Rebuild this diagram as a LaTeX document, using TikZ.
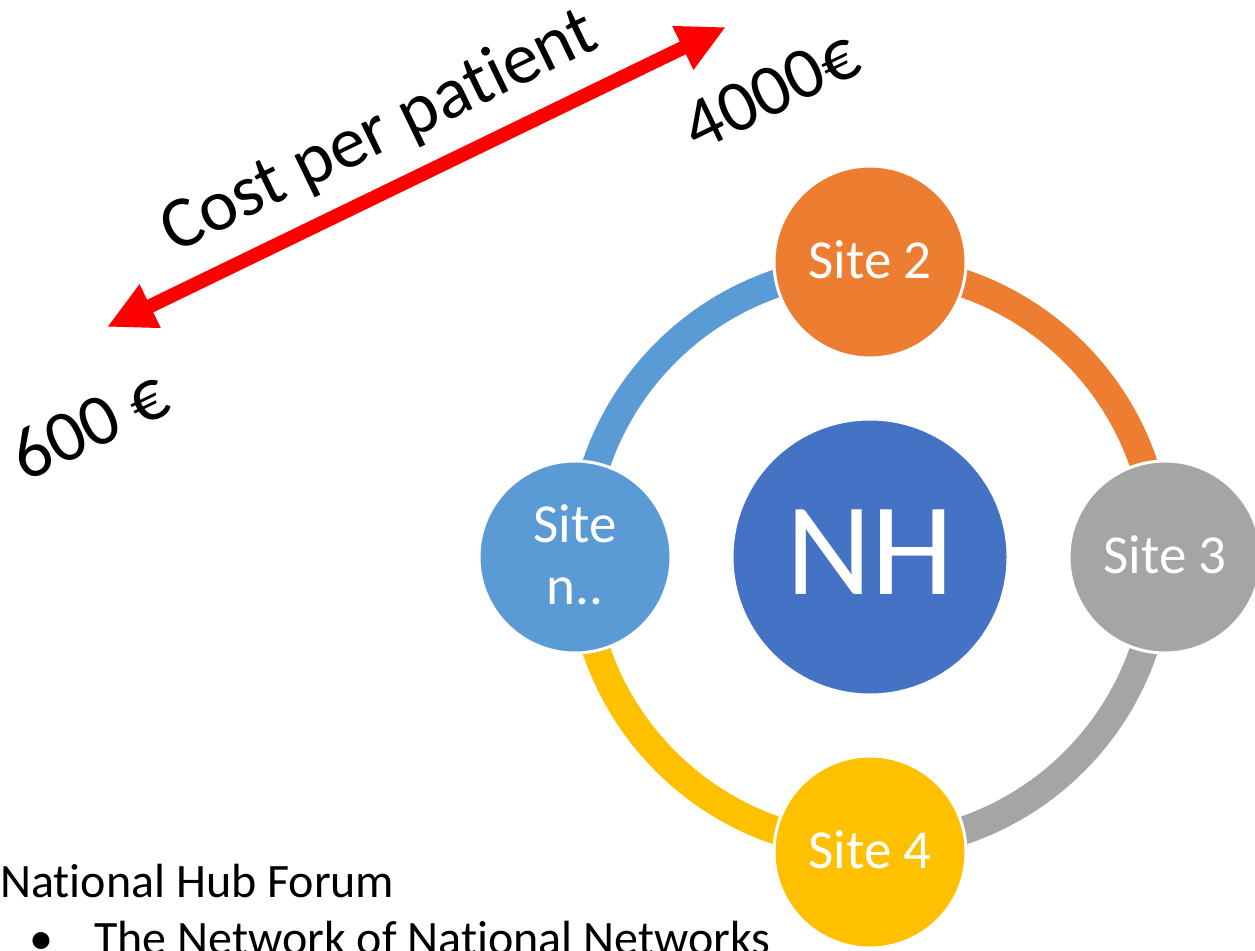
\documentclass[tikz,border=0pt]{standalone}
\usepackage{fontspec}
\setmainfont{Carlito}[Ligatures={NoCommon,NoContextual},RawFeature={-liga;-clig;-dlig}]
\usetikzlibrary{arrows.meta}
\definecolor{cOrange}{HTML}{ED7D31}
\definecolor{cGray}{HTML}{A5A5A5}
\definecolor{cYellow}{HTML}{FFC000}
\definecolor{cBlue}{HTML}{5B9BD5}
\definecolor{cHub}{HTML}{4472C4}
\definecolor{cRed}{HTML}{FF0000}
\tikzset{
  sitecircle/.style={circle, draw=white, line width=3pt, minimum size=192pt, inner sep=0pt,
     text=white, font=\fontsize{55}{62}\selectfont, text height=32pt, text depth=0pt},
  hubcircle/.style={circle, draw=white, line width=3pt, minimum size=276pt, inner sep=0pt,
     fill=cHub, text=white, font=\fontsize{132}{150}\selectfont, text height=74pt, text depth=0pt},
  ringarc/.style={line width=28pt},
  bigtext/.style={font=\fontsize{73}{80}\selectfont, inner sep=0pt, anchor=base, rotate=25.8},
  bodytext/.style={font=\fontsize{48}{58}\selectfont, inner sep=0pt},
  costarrow/.style={cRed, line width=14pt,
     {Triangle[length=48pt,width=45pt]}-{Triangle[length=48pt,width=45pt]}}
}
\begin{document}
\begin{tikzpicture}[x=1pt,y=1pt]
\useasboundingbox (0,0) rectangle (1255,-950);
\clip (0,0) rectangle (1255,-950);
\fill[white] (0,0) rectangle (1255,-950);

% ring
\coordinate (c) at (870,-557);
\draw[ringarc, cBlue]   (c) ++(90:289pt)  arc[start angle=90,  end angle=180, radius=289pt];
\draw[ringarc, cYellow] (c) ++(180:289pt) arc[start angle=180, end angle=270, radius=289pt];
\draw[ringarc, cGray]   (c) ++(270:289pt) arc[start angle=270, end angle=360, radius=289pt];
\draw[ringarc, cOrange] (c) ++(0:289pt)   arc[start angle=0,   end angle=90,  radius=289pt];

% hub and sites
\node[hubcircle] (nh) at (c) {NH};
\node[sitecircle, fill=cOrange] (s2) at (870,-262) {Site 2};
\node[sitecircle, fill=cGray]   (s3) at (1165,-557) {Site 3};
\node[sitecircle, fill=cYellow] (s4) at (870,-852) {Site 4};
\node[sitecircle, fill=cBlue]   (sn) at (575,-557) {};
\node[font=\fontsize{55}{62}\selectfont, text=white, inner sep=0pt, anchor=base] (snA) at (575,-542) {Site};
\node[font=\fontsize{55}{62}\selectfont, text=white, inner sep=0pt, anchor=base] (snB) at (575,-604) {n..};

% cost arrow
\coordinate (lo) at (107,-327);
\coordinate (hi) at (726,-27);
\draw[costarrow] (lo) -- (hi);
\node[bigtext] (cost) at (388,-150) {Cost per patient};
\node[bigtext] (hiLab) at (781,-112) {4000€};
\node[bigtext] (loLab) at (100,-447) {600 €};

% bottom text
\node[bodytext, anchor=base west] (t1) at (0,-897) {National Hub Forum};
\node[bodytext, anchor=base] (b1) at (41,-954) {•};
\node[bodytext, anchor=base west] (t2) at (94,-954) {The Network of National Networks};
\end{tikzpicture}
\end{document}
